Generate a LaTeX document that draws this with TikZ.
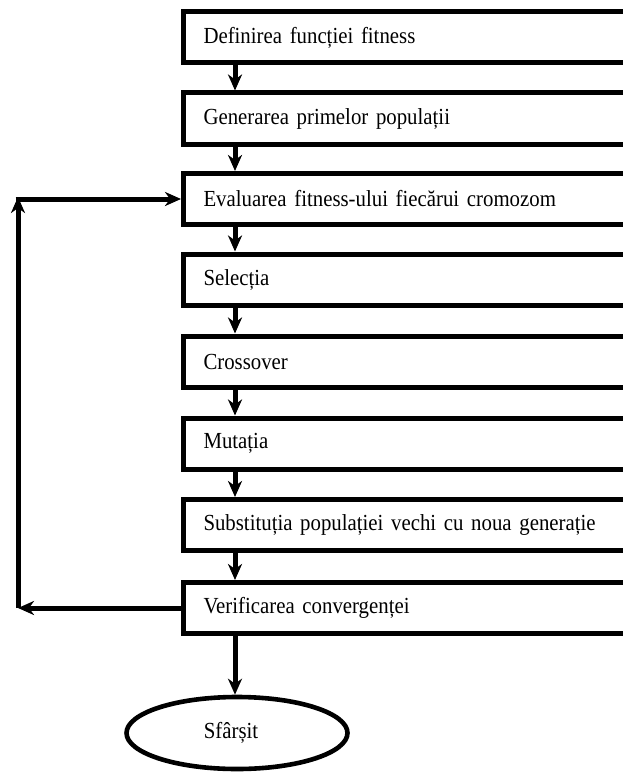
\documentclass[tikz,border=0pt]{standalone}
\usepackage{fontspec}
\setmainfont{Liberation Serif}[FakeStretch=0.905]
\usetikzlibrary{arrows.meta,shapes.geometric}

\newlength{\du}
\setlength{\du}{1pt}

\begin{document}
\begin{tikzpicture}[
  stepbox/.style={draw=black, line width=5\du, fill=white, anchor=west,
    minimum height=51\du, text width=420\du, inner xsep=20\du, inner ysep=0pt,
    align=left, font=\fontsize{23}{26}\selectfont},
  endoval/.style={draw=black, line width=4.6\du, ellipse, fill=white,
    minimum width=221\du, minimum height=72\du, inner sep=0pt,
    font=\fontsize{23}{26}\selectfont},
  flowarrow/.style={line width=5\du,
    -{Stealth[length=16pt,width=14pt,inset=5pt]}}
]
\pgftransformxscale{1.000000}
\pgftransformyscale{-1.000000}
\useasboundingbox (0\du,0\du) rectangle (622\du,773\du);
% steps of the algorithm
\node[stepbox] (def) at (181\du,37.5\du){Definirea funcției fitness};
\node[stepbox] (gen) at (181\du,118.5\du){Generarea primelor populații};
\node[stepbox] (eval) at (181\du,199\du){Evaluarea fitness-ului fiecărui cromozom};
\node[stepbox] (sel) at (181\du,279.5\du){Selecția};
\node[stepbox] (cross) at (181\du,361.5\du){Crossover};
\node[stepbox] (mut) at (181\du,443.5\du){Mutația};
\node[stepbox] (subst) at (181\du,525\du){Substituția populației vechi cu noua generație};
\node[stepbox] (verif) at (181\du,608\du){Verificarea convergenței};
\node[endoval] (end) at (237\du,733\du){\hspace*{-12\du}Sfârșit};
% arrows down
\coordinate (col) at (235\du,0\du);
\draw[flowarrow] (def.south -| col)--(gen.north -| col);
\draw[flowarrow] (gen.south -| col)--(eval.north -| col);
\draw[flowarrow] (eval.south -| col)--(sel.north -| col);
\draw[flowarrow] (sel.south -| col)--(cross.north -| col);
\draw[flowarrow] (cross.south -| col)--(mut.north -| col);
\draw[flowarrow] (mut.south -| col)--(subst.north -| col);
\draw[flowarrow] (subst.south -| col)--(verif.north -| col);
\draw[flowarrow] (verif.south -| col)--(end.north -| col);
% loop back
\coordinate (lbot) at (18\du,608\du);
\coordinate (ltop) at (18\du,197\du);
\draw[flowarrow] (verif.west)--(lbot);
\draw[flowarrow] (lbot)--(ltop);
\draw[flowarrow] ([xshift=-2.5pt]ltop |- eval.west)--(eval.west);
\end{tikzpicture}
\end{document}
